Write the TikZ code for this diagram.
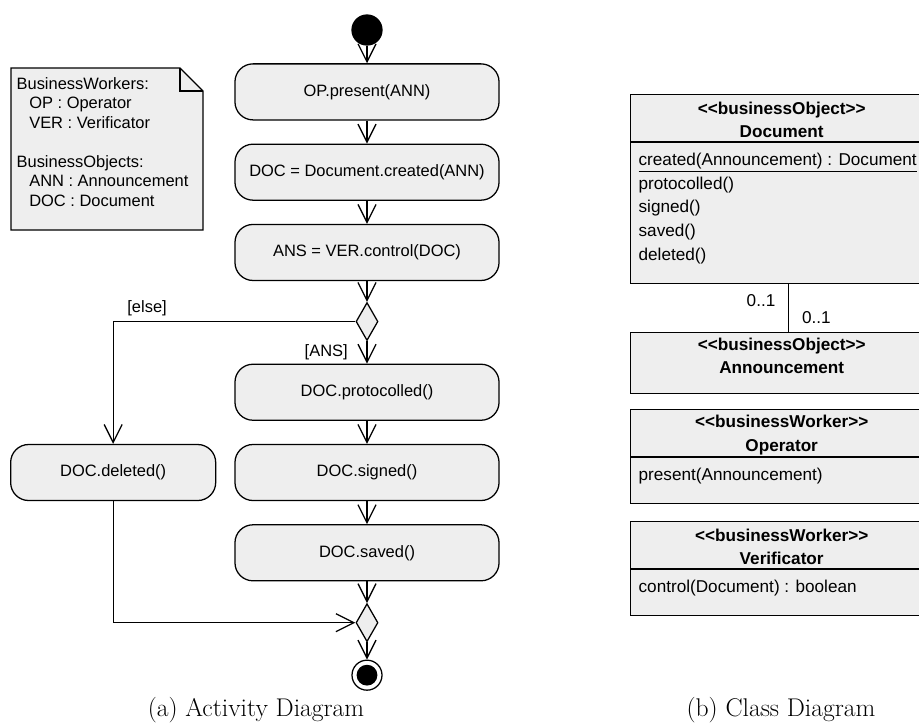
\documentclass[tikz,border=0pt]{standalone}
\usepackage{fontspec}
\usepackage{tikz}
\usetikzlibrary{shapes.geometric, arrows.meta, positioning}

\newfontfamily\umlsans{Liberation Sans}
\newcommand{\actfont}{\umlsans\fontsize{11.7}{13.9}\selectfont}
\newcommand{\clsfont}{\umlsans\fontsize{12.2}{16.8}\selectfont}
\newcommand{\stereo}[1]{<\kern0pt<#1>\kern0pt>}
\definecolor{umlfill}{HTML}{EEEEEE}

\begin{document}
\begin{tikzpicture}[x=0.025cm, y=-0.025cm, >={Straight Barb[length=4.5mm, width=4.5mm]}, node distance=5.75mm, line width=0.9pt]
	\tikzstyle{action} = [draw, fill=umlfill, rounded corners=4.5mm, minimum width=6.6cm, minimum height=1.4cm, font=\actfont]
	\tikzstyle{branch} = [draw, fill=umlfill, diamond, minimum width=5.5mm, minimum height=9.5mm, inner sep=0pt]
	\tikzstyle{guard} = [font=\actfont]
	\tikzstyle{clsbox} = [draw, fill=umlfill, minimum width=7.55cm, inner sep=0pt, anchor=north west]
	\tikzstyle{clstitle} = [font=\clsfont\bfseries, align=center, inner sep=0pt]
	\tikzstyle{clsops} = [font=\clsfont, align=left, inner sep=0pt, anchor=north west]
	\tikzstyle{subcaption} = [font=\fontsize{18.2}{21}\selectfont, inner sep=0pt]

	\useasboundingbox (0,0) rectangle (919,725);
	\clip (0,0) rectangle (919,725);

	% activity diagram
	\begin{scope}
		\filldraw[fill=umlfill] (11,68) -- (180,68) -- (203,91) -- (203,230) -- (11,230) -- cycle;
		\draw (180,68) -- (180,91) -- (203,91);
		\node[font=\actfont, align=left, inner sep=0pt, anchor=north west] (roles) at (16,76.5)
			{BusinessWorkers:\\\hspace*{9pt}OP : Operator\\\hspace*{9pt}VER : Verificator\\[13.9pt]BusinessObjects:\\\hspace*{9pt}ANN : Announcement\\\hspace*{9pt}DOC : Document};

		\node[draw, fill, circle, minimum size=7.5mm, inner sep=0pt] (start) at (367,30) {};
		\node[action, below=4.4mm of start] (present) {OP.present(ANN)};
		\node[action, below=of present] (created) {DOC = Document.created(ANN)};
		\node[action, below=of created] (control) {ANS = VER.control(DOC)};
		\node[branch, below=5.2mm of control] (decision) {};
		\node[action, below=5.6mm of decision] (protocolled) {DOC.protocolled()};
		\node[action, below=of protocolled] (signed) {DOC.signed()};
		\node[action, below=of signed] (saved) {DOC.saved()};
		\node[action, left=4.5mm of signed, minimum width=5.125cm] (deleted) {DOC.deleted()};
		\node[branch, below=5.4mm of saved] (merge) {};
		\node[draw, circle, minimum size=7.5mm, inner sep=0pt, below=4.3mm of merge,
			path picture={\fill (path picture bounding box.center) circle (2.6mm);}] (final) {};

		\path[->]
			(start) edge (present)
			(present) edge (created)
			(created) edge (control)
			(control) edge (decision)
			(decision) edge node[guard, pos=0.5, left=3.5mm] {[ANS]} (protocolled)
			(protocolled) edge (signed)
			(signed) edge (saved)
			(saved) edge (merge)
			(merge) edge (final)
		;
		\draw[->] (decision) -| node[guard, pos=0.43, above] {[else]} (deleted);
		\draw[->] (deleted) |- (merge);
	\end{scope}

	% class diagram
	\begin{scope}
		\node[clsbox, minimum height=4.725cm] (document) at (630,94) {};
		\draw ([yshift=-1.2cm]document.north west) -- ([yshift=-1.2cm]document.north east);
		\node[clstitle] (documentname) at ([yshift=-6.5mm]document.north) {\stereo{businessObject}\\Document};
		\node[clsops] (documentops) at ([shift={(8,58.5)}]document.north west)
			{\underline{created(Announcement) : Document}\\protocolled()\\signed()\\saved()\\deleted()};

		\node[clsbox, minimum height=1.525cm] (announcement) at (630,332) {};
		\node[clstitle] (announcementname) at ([yshift=-6mm]announcement.north) {\stereo{businessObject}\\Announcement};

		\node[clsbox, minimum height=2.35cm] (operator) at (630,409) {};
		\draw ([yshift=-1.2cm]operator.north west) -- ([yshift=-1.2cm]operator.north east);
		\node[clstitle] (operatorname) at ([yshift=-6.5mm]operator.north) {\stereo{businessWorker}\\Operator};
		\node[clsops] (operatorops) at ([shift={(8,58)}]operator.north west) {present(Announcement)};

		\node[clsbox, minimum height=2.35cm] (verificator) at (630,521) {};
		\draw ([yshift=-1.2cm]verificator.north west) -- ([yshift=-1.2cm]verificator.north east);
		\node[clstitle] (verificatorname) at ([yshift=-6.5mm]verificator.north) {\stereo{businessWorker}\\Verificator};
		\node[clsops] (verificatorops) at ([shift={(8,58)}]verificator.north west) {control(Document) : boolean};

		\draw ([xshift=1.75mm]document.south) --
			node[font=\clsfont, pos=0.35, left=2mm] {0..1}
			node[font=\clsfont, pos=0.69, right=2mm] {0..1}
			([xshift=1.75mm]announcement.north);
	\end{scope}

	\node[subcaption, anchor=base] (activitycap) at (256,716) {(a) Activity Diagram};
	\node[subcaption, anchor=base] (classcap) at (781,716) {(b) Class Diagram};
\end{tikzpicture}
\end{document}
